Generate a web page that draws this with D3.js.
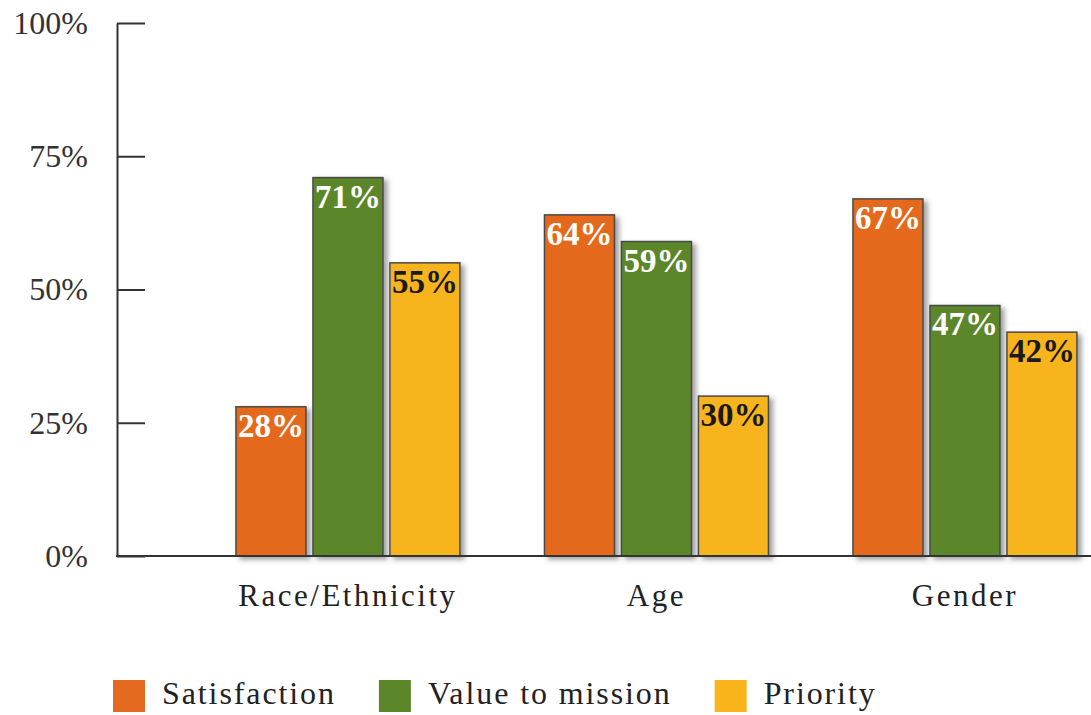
<!DOCTYPE html>
<html>
<head>
<meta charset="utf-8">
<script src="https://cdn.jsdelivr.net/npm/d3@7/dist/d3.min.js"></script>
<style>
  html, body { margin: 0; padding: 0; background: #ffffff; }
  svg { display: block; }
</style>
</head>
<body>
<svg id="chart" width="1091" height="715"></svg>
<script>
// Survey results by diversity dimension
const categories = ["Race/Ethnicity", "Age", "Gender"];
const seriesNames = ["Satisfaction", "Value to mission", "Priority"];
const satisfaction = [28, 64, 67];
const valueToMission = [71, 59, 47];
const priority = [55, 30, 42];
const yTicks = [0, 25, 50, 75, 100];

const seriesValues = [satisfaction, valueToMission, priority];
const colors = ["#e5691f", "#5b862a", "#f8b41a"];
const labelColors = ["#ffffff", "#ffffff", "#1a1a1a"];

const svg = d3.select("#chart");
const W = 1091, H = 715;
const axisX = 117, baseY = 556, topY = 23;
const serif = "'Liberation Serif', 'Times New Roman', serif";

const y = d3.scaleLinear().domain([0, 100]).range([baseY, topY]);

const x0 = d3.scaleBand()
  .domain(categories)
  .range([193.7, 1119.2])
  .paddingInner(0.274)
  .paddingOuter(0.137);

const x1 = d3.scaleBand()
  .domain(seriesNames)
  .range([0, x0.bandwidth()])
  .paddingInner(0.0909);

const color = d3.scaleOrdinal().domain(seriesNames).range(colors);
const labelColor = d3.scaleOrdinal().domain(seriesNames).range(labelColors);

// Soft drop shadow under the bars
const defs = svg.append("defs");
const f = defs.append("filter").attr("id", "shadow")
  .attr("x", "-20%").attr("y", "-10%").attr("width", "150%").attr("height", "130%");
f.append("feDropShadow")
  .attr("dx", 4).attr("dy", 3).attr("stdDeviation", 2.5)
  .attr("flood-color", "#444").attr("flood-opacity", 0.5);

const rows = categories.map((c, i) => ({
  category: c,
  values: seriesNames.map((s, j) => ({ series: s, value: seriesValues[j][i] }))
}));

// Bars
const groups = svg.append("g").selectAll("g")
  .data(rows).join("g")
  .attr("transform", d => `translate(${x0(d.category)},0)`);

groups.selectAll("rect")
  .data(d => d.values).join("rect")
  .attr("x", d => x1(d.series))
  .attr("y", d => y(d.value))
  .attr("width", x1.bandwidth())
  .attr("height", d => y(0) - y(d.value))
  .attr("fill", d => color(d.series))
  .attr("stroke", "#4a4a4a")
  .attr("stroke-width", 1.5)
  .attr("filter", "url(#shadow)");

// Value labels inside the top of each bar
groups.selectAll("text")
  .data(d => d.values).join("text")
  .attr("x", d => x1(d.series) + x1.bandwidth() / 2)
  .attr("y", d => y(d.value) + 30)
  .attr("text-anchor", "middle")
  .attr("font-family", serif)
  .attr("font-weight", "bold")
  .attr("font-size", 33)
  .attr("fill", d => labelColor(d.series))
  .text(d => d.value + "%");

// Y axis with inward ticks
const yAxis = svg.append("g")
  .attr("transform", `translate(${axisX},0)`)
  .call(d3.axisLeft(y).tickValues(yTicks).tickSize(-28).tickSizeOuter(0)
    .tickPadding(29).tickFormat(d => d + "%"));
yAxis.select(".domain").attr("stroke", "#333").attr("stroke-width", 2);
yAxis.selectAll(".tick line").attr("stroke", "#333").attr("stroke-width", 2);
yAxis.selectAll(".tick text")
  .attr("font-family", serif)
  .attr("font-size", 32)
  .attr("fill", "#333");

// Baseline
svg.append("line")
  .attr("x1", axisX - 1).attr("x2", W)
  .attr("y1", y(0)).attr("y2", y(0))
  .attr("stroke", "#333").attr("stroke-width", 2);

// Category labels
const xAxis = svg.append("g")
  .attr("transform", `translate(0,${y(0)})`)
  .call(d3.axisBottom(x0).tickSize(0).tickPadding(28));
xAxis.select(".domain").remove();
xAxis.selectAll(".tick text")
  .attr("font-family", serif)
  .attr("font-size", 31)
  .attr("letter-spacing", "2.5px")
  .attr("fill", "#222");

// Legend
const legend = svg.append("g").attr("transform", "translate(113,680)");
let lx = 0;
seriesNames.forEach((s, i) => {
  const item = legend.append("g").attr("transform", `translate(${lx},0)`);
  item.append("rect")
    .attr("width", 32).attr("height", 32)
    .attr("fill", color(s));
  const t = item.append("text")
    .attr("x", 49).attr("y", 24)
    .attr("font-family", serif)
    .attr("font-size", 32)
    .attr("letter-spacing", "1.9px")
    .attr("fill", "#222")
    .text(s);
  lx += 49 + t.node().getComputedTextLength() + 43;
});
</script>
</body>
</html>
